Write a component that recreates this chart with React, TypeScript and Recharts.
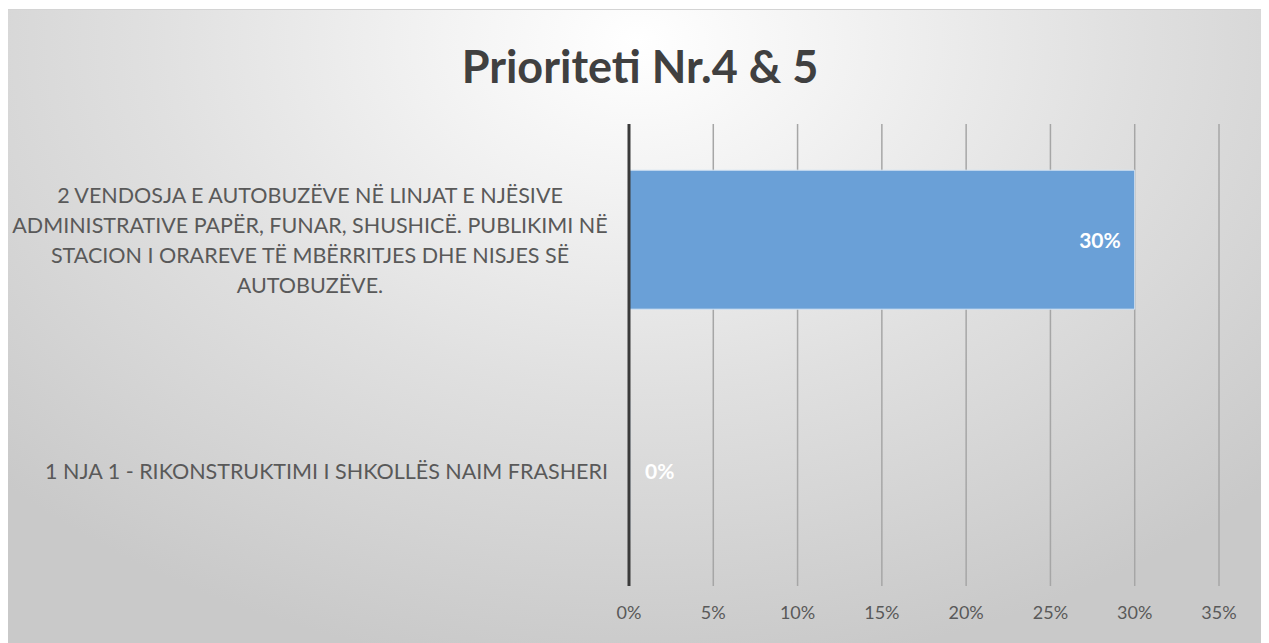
import { BarChart, Bar, XAxis, YAxis, CartesianGrid, LabelList } from 'recharts';

const categories = [
  '2 VENDOSJA E AUTOBUZËVE NË LINJAT E NJËSIVE\nADMINISTRATIVE PAPËR, FUNAR, SHUSHICË. PUBLIKIMI NË\nSTACION I ORAREVE TË MBËRRITJES DHE NISJES SË\nAUTOBUZËVE.',
  '1 NJA 1 - RIKONSTRUKTIMI I SHKOLLËS NAIM FRASHERI',
];
const values = [0.3, 0];
const xTicks = [0, 0.05, 0.1, 0.15, 0.2, 0.25, 0.3, 0.35];

const data = categories.map((name, i) => ({ name, value: values[i] }));

const FONT = 'Lato, "Open Sans", sans-serif';
const pct = (v: number) => `${Math.round(v * 100)}%`;

// category labels: multi-line ones are centred, single-line ones hug the axis
// eslint-disable-next-line @typescript-eslint/no-explicit-any
function CategoryTick({ x, y, payload }: any) {
  const lines = String(payload.value).split('\n');
  const multi = lines.length > 1;
  return (
    <g>
      {lines.map((line, i) => (
        <text
          key={i}
          x={multi ? x - 311 : x - 13}
          y={y + (i - (lines.length - 1) / 2) * 30}
          textAnchor={multi ? 'middle' : 'end'}
          dominantBaseline="central"
          fill="#595959"
          fontSize={21.5}
          fontFamily={FONT}
        >
          {line}
        </text>
      ))}
    </g>
  );
}

// eslint-disable-next-line @typescript-eslint/no-explicit-any
function PercentTick({ x, y, payload }: any) {
  return (
    <text x={x} y={y + 18} textAnchor="middle" dominantBaseline="central" fill="#595959" fontSize={18} fontFamily={FONT}>
      {pct(payload.value)}
    </text>
  );
}

// eslint-disable-next-line @typescript-eslint/no-explicit-any
function ValueLabel({ x, y, width, height, value }: any) {
  const zero = !value;
  return (
    <text
      x={zero ? x + 16 : x + width - 14}
      y={y + height / 2}
      textAnchor={zero ? 'start' : 'end'}
      dominantBaseline="central"
      fill="#ffffff"
      fontSize={21}
      fontWeight="bold"
      fontFamily={FONT}
    >
      {pct(value)}
    </text>
  );
}

export default function App() {
  return (
    <div
      style={{
        position: 'relative',
        width: 1262,
        height: 634,
        marginLeft: -1,
        marginTop: 1,
        borderTop: '1px solid #d4d4d4',
        background:
          'radial-gradient(ellipse 70% 100% at 50% 5%, #ffffff 0%, #f3f3f3 22%, #e0e0e0 55%, #c9c9c9 100%)',
      }}
    >
      <div
        style={{
          position: 'absolute',
          top: 29,
          left: 0,
          width: 1266,
          textAlign: 'center',
          fontFamily: FONT,
          fontWeight: 'bold',
          fontSize: 45,
          lineHeight: '54px',
          color: '#404040',
        }}
      >
        Prioriteti Nr.4 &amp; 5
      </div>
      <BarChart
        width={1262}
        height={634}
        data={data}
        layout="vertical"
        barCategoryGap="20%"
        margin={{ top: 114, right: 50, bottom: 18, left: 0 }}
      >
        <CartesianGrid horizontal={false} stroke="#a6a6a6" strokeWidth={1.5} />
        <XAxis
          type="number"
          domain={[0, 0.35]}
          ticks={xTicks}
          axisLine={false}
          tickLine={false}
          height={40}
          tick={<PercentTick />}
        />
        <Bar dataKey="value" fill="#6aa0d7" stroke="#d6e4f3" strokeWidth={1} minPointSize={1} isAnimationActive={false}>
          <LabelList dataKey="value" content={<ValueLabel />} />
        </Bar>
        <YAxis
          type="category"
          dataKey="name"
          width={622}
          axisLine={{ stroke: '#3a3a3a', strokeWidth: 3 }}
          tickLine={false}
          tick={<CategoryTick />}
          interval={0}
        />
      </BarChart>
    </div>
  );
}
